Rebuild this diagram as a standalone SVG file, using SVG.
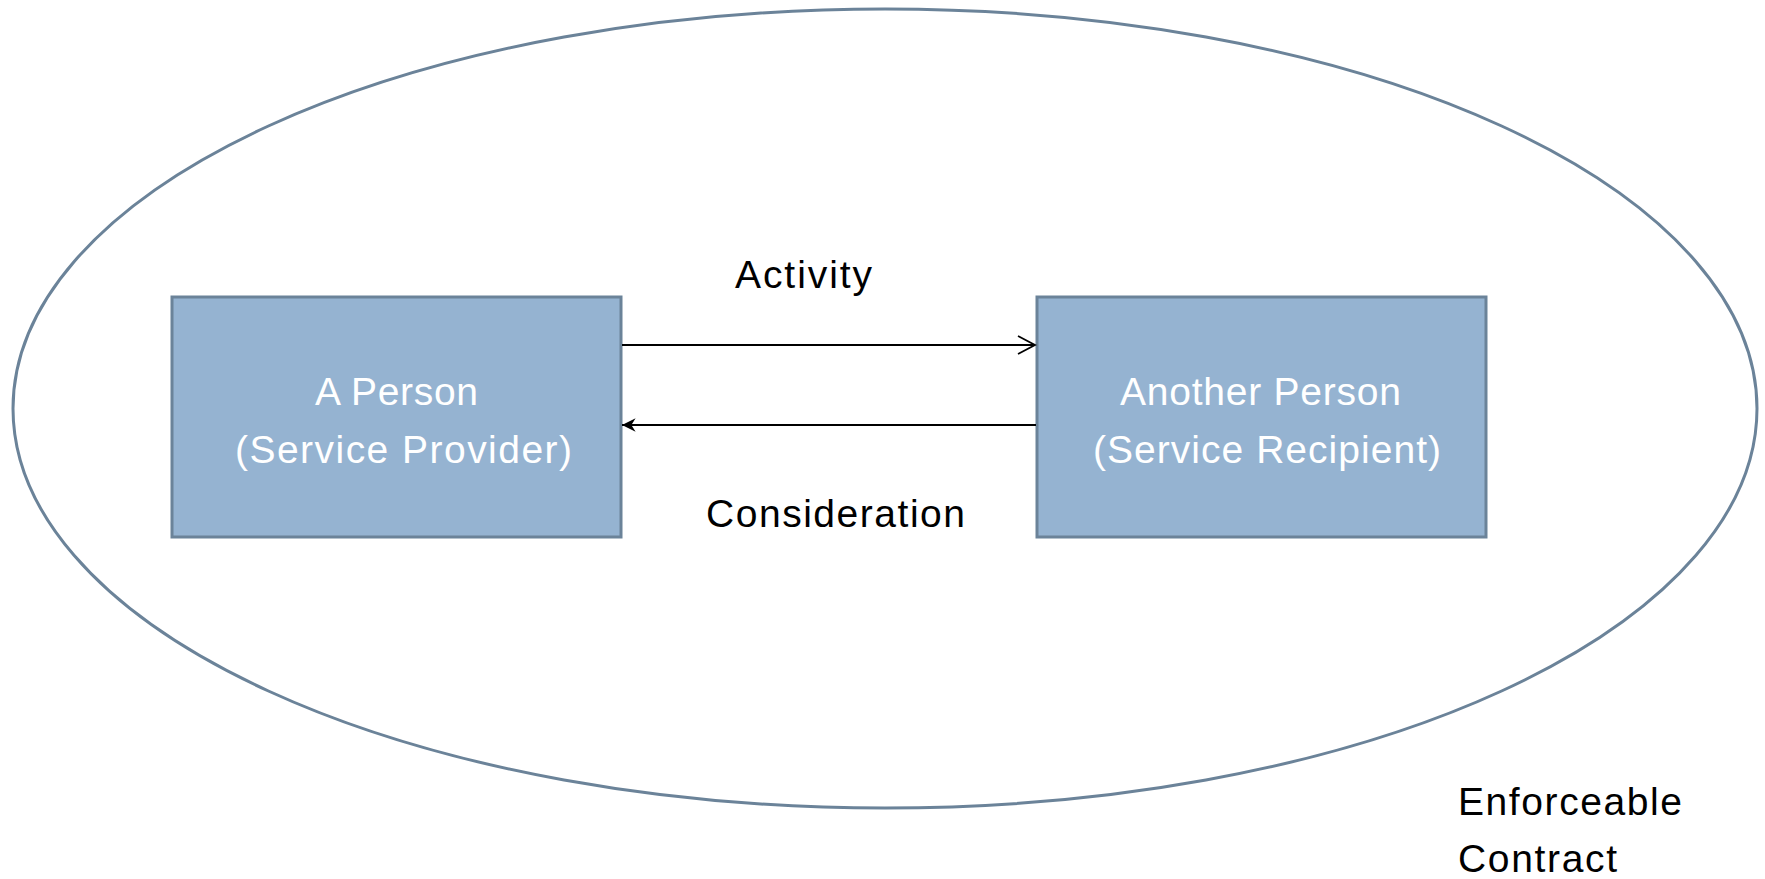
<svg xmlns="http://www.w3.org/2000/svg" width="1765" height="879" viewBox="0 0 1765 879">
<style>
.contract{fill:none;stroke:#6B8399;stroke-width:3}
.box{fill:#95B3D1;stroke:#6B8399;stroke-width:3}
.bt{font-family:"Liberation Sans",Arial,sans-serif;font-size:39px;fill:#FFFFFF;text-anchor:middle}
.lb{font-family:"Liberation Sans",Arial,sans-serif;font-size:39px;fill:#000000}
.conn{stroke:#000;stroke-width:2;fill:none}
</style>
<defs>
<marker id="open" viewBox="0 0 20 20" refX="18" refY="10" markerWidth="20" markerHeight="20" markerUnits="userSpaceOnUse" orient="auto">
<path d="M1,1 L18,10 L1,19" fill="none" stroke="#000" stroke-width="1.8"/>
</marker>
<marker id="stealth" viewBox="0 0 20 20" refX="18" refY="10" markerWidth="17" markerHeight="17" markerUnits="userSpaceOnUse" orient="auto">
<path d="M2,2 L18,10 L2,18 L7,10 Z" fill="#000"/>
</marker>
</defs>
<g id="contract">
<ellipse class="contract" cx="885" cy="408.5" rx="872" ry="399.5"/>
</g>
<g id="provider">
<rect class="box" x="172" y="297" width="449" height="240"/>
<text class="bt" x="396.5" y="405" textLength="163" lengthAdjust="spacing">A Person</text>
<text class="bt" x="403.5" y="463" textLength="337" lengthAdjust="spacing">(Service Provider)</text>
</g>
<g id="recipient">
<rect class="box" x="1037" y="297" width="449" height="240"/>
<text class="bt" x="1260.5" y="405" textLength="281" lengthAdjust="spacing">Another Person</text>
<text class="bt" x="1267" y="463" textLength="348" lengthAdjust="spacing">(Service Recipient)</text>
</g>
<g id="connectors">
<line class="conn" x1="622" y1="345" x2="1035" y2="345" marker-end="url(#open)"/>
<line class="conn" x1="1036" y1="425" x2="622" y2="425" marker-end="url(#stealth)"/>
</g>
<g id="labels">
<text class="lb" x="735" y="288" textLength="137" lengthAdjust="spacing">Activity</text>
<text class="lb" x="706" y="527" textLength="259" lengthAdjust="spacing">Consideration</text>
<text class="lb" x="1458" y="815" textLength="224" lengthAdjust="spacing">Enforceable</text>
<text class="lb" x="1458" y="872" textLength="159" lengthAdjust="spacing">Contract</text>
</g>
</svg>
